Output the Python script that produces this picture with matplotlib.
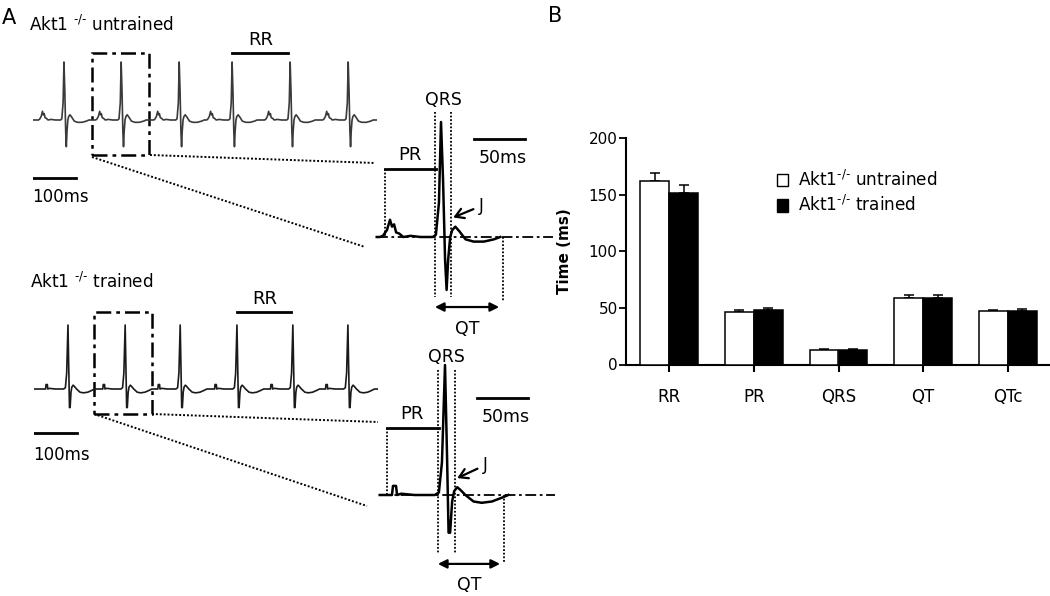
import matplotlib
matplotlib.use('Agg')
import matplotlib.pyplot as plt
from matplotlib.patches import Rectangle, Patch

W, H = 1050, 596

# ---------------- Panel B data ----------------
categories = ['RR', 'PR', 'QRS', 'QT', 'QTc']
untrained_mean = [162, 46, 12.5, 58.5, 47]
untrained_sem = [7, 2, 1, 2.5, 1.5]
trained_mean = [151, 48, 13, 58.5, 47.5]
trained_sem = [7.5, 1.5, 0.6, 2.5, 1.2]
yticks = [0, 50, 100, 150, 200]
legend_labels = [r'Akt1$^{\text{-/-}}$ untrained', r'Akt1$^{\text{-/-}}$ trained']

# ---------------- Panel A data ----------------
# R-peak times (ms) in the overview traces
untrained_r_times = [72, 205, 340, 463, 598, 733]
trained_r_times = [79, 212, 340, 472, 602, 730]
# beat template knots: time relative to R peak (ms), amplitude relative to R
untrained_beat_t = [-60, -57, -53, -50, -48, -46, -44, -41, -37, -30, -20, -8, -5, -2, 0, 2, 4, 5.5, 7, 9, 11, 14, 18, 24, 32, 42, 52, 58]
untrained_beat_a = [0, 0.01, 0.06, 0.15, 0.09, 0.11, 0.04, 0.03, 0.0, 0.01, 0.0, 0.0, 0.02, 0.3, 1.0, 0.5, -0.2, -0.46, -0.2, 0.0, 0.06, 0.09, 0.05, -0.02, -0.04, -0.04, -0.02, 0]
trained_beat_t = [-62, -57, -52, -51, -48, -47, -43, -30, -10, -6, -3, 0, 2, 3.5, 5, 7, 9, 12, 15, 20, 28, 36, 46, 56, 62]
trained_beat_a = [0, 0, 0.0, 0.07, 0.07, 0.0, 0.01, 0, 0, 0.02, 0.25, 1.0, 0.3, -0.29, -0.29, -0.05, 0.03, 0.06, 0.04, 0.0, -0.05, -0.06, -0.05, -0.02, 0]
# interval landmarks of the zoomed beats (ms relative to R)
untrained_marks = {'p_on': -55, 'qrs_on': -6, 'qrs_off': 10, 't_end': 61}
trained_marks = {'p_on': -57, 'qrs_on': -7, 'qrs_off': 10, 't_end': 58}
trace_len = 800

fig = plt.figure(figsize=(W / 100, H / 100), dpi=100)

ov = fig.add_axes([0, 0, 1, 1])
ov.set_xlim(0, W)
ov.set_ylim(H, 0)
ov.axis('off')


def trace_axes(x0, x1, y0, y1, t0, pxms, base_py, pxamp):
    ax = fig.add_axes([x0 / W, 1 - y1 / H, (x1 - x0) / W, (y1 - y0) / H])
    ax.set_xlim(t0, t0 + (x1 - x0) / pxms)
    ax.set_ylim((base_py - y1) / pxamp, (base_py - y0) / pxamp)
    ax.axis('off')
    return ax


def build_trace(r_times, bt, ba, t_end):
    t, a = [0], [0]
    for r in r_times:
        t += [r + x for x in bt]
        a += list(ba)
    t.append(t_end)
    a.append(0)
    return t, a


dashdot = (0, (6, 2, 1.5, 2))
dotted = (0, (1, 1))


def overview(ax, r_times, bt, ba, color, box, bar_amp, scale_amp):
    t, a = build_trace(r_times, bt, ba, trace_len)
    ax.plot(t, a, color=color, lw=1.2, solid_joinstyle='round')
    bx0, bx1, by0, by1 = box
    ax.add_patch(Rectangle((bx0, by0), bx1 - bx0, by1 - by0, fill=False,
                           ec='black', lw=1.8, ls=dashdot))
    ax.plot([r_times[3], r_times[4] - 4], [bar_amp, bar_amp], color='black', lw=2)
    ax.annotate('RR', xy=((r_times[3] + r_times[4]) / 2, bar_amp), xytext=(0, 3),
                textcoords='offset points', ha='center', va='bottom', fontsize=13)
    ax.plot([0, 100], [scale_amp, scale_amp], color='black', lw=2)


def zoomed(ax, bt, ba, marks, t_start, t_stop, pr_y, qrs_top, qrs_bot, qt_bot,
           qt_arrow_y, qt_arrow_end, bar50_t, bar50_y, j_tip, j_text):
    ax.plot([t_start, t_stop], [0, 0], color='black', lw=1.3, ls=dashdot)
    t = [t_start] + list(bt)
    a = [0] + list(ba)
    ax.plot(t, a, color='black', lw=1.8)
    ax.plot([marks['p_on'], marks['qrs_on'] + 1], [pr_y, pr_y], color='black', lw=2)
    ax.plot([marks['p_on']] * 2, [pr_y, 0], color='black', lw=1.3, ls=dotted)
    ax.text((marks['p_on'] + marks['qrs_on']) / 2, pr_y + 0.04, 'PR',
            ha='center', va='bottom', fontsize=13)
    for q in (marks['qrs_on'], marks['qrs_off']):
        ax.plot([q, q], [qrs_top, qrs_bot], color='black', lw=1.3, ls=dotted)
    ax.text((marks['qrs_on'] + marks['qrs_off']) / 2, qrs_top + 0.03, 'QRS',
            ha='center', va='bottom', fontsize=12.5)
    ax.plot([marks['t_end']] * 2, [0, qt_bot], color='black', lw=1.3, ls=dotted)
    ax.annotate('', xy=(qt_arrow_end, qt_arrow_y), xytext=(marks['qrs_on'], qt_arrow_y),
                arrowprops=dict(arrowstyle='<|-|>', lw=1.6, color='black',
                                mutation_scale=13, shrinkA=0, shrinkB=0))
    ax.annotate('QT', xy=((marks['qrs_on'] + qt_arrow_end) / 2, qt_arrow_y),
                xytext=(0, -9), textcoords='offset points', ha='center', va='top',
                fontsize=12.5)
    ax.plot([bar50_t, bar50_t + 50], [bar50_y, bar50_y], color='black', lw=2)
    ax.annotate('50ms', xy=(bar50_t + 25, bar50_y), xytext=(2, -7),
                textcoords='offset points', ha='center', va='top', fontsize=12.5)
    ax.annotate('J', xy=j_tip, xytext=j_text, ha='left', va='center', fontsize=12,
                arrowprops=dict(arrowstyle='->,head_length=0.5,head_width=0.3',
                                lw=1.6, color='black', shrinkA=2, shrinkB=0))


# ---- top overview (untrained)
ax_u = trace_axes(33, 377, 30, 215, 0, 0.43, 120, 58)
overview(ax_u, untrained_r_times, untrained_beat_t, untrained_beat_a, '#3a3a3a',
         (137, 270, -0.6, 1.155), 1.155, -1.0)
# ---- bottom overview (trained)
ax_t = trace_axes(34, 378, 290, 470, 0, 0.43, 389, 64)
overview(ax_t, trained_r_times, trained_beat_t, trained_beat_a, '#1a1a1a',
         (140, 274, -0.39, 1.2), 1.2, -0.69)

# ---- zoomed insets
ax_zu = trace_axes(360, 560, 80, 345, (360 - 441) / 1.02, 1.02, 237, 115)
zoomed(ax_zu, untrained_beat_t, untrained_beat_a, untrained_marks, -63, 110,
       pr_y=0.591, qrs_top=1.087, qrs_bot=-0.522, qt_bot=-0.565,
       qt_arrow_y=-0.609, qt_arrow_end=57, bar50_t=32.4, bar50_y=0.852,
       j_tip=(12, 0.17), j_text=(37, 0.27))
ax_zt = trace_axes(360, 560, 340, 596, (360 - 445) / 1.02, 1.02, 495, 130)
zoomed(ax_zt, trained_beat_t, trained_beat_a, trained_marks, -64, 108,
       pr_y=0.515, qrs_top=0.96, qrs_bot=-0.446, qt_bot=-0.515,
       qt_arrow_y=-0.53, qt_arrow_end=54, bar50_t=31.4, bar50_y=0.746,
       j_tip=(12, 0.13), j_text=(37, 0.23))

# ---- connector lines (pixel coordinates)
for (x0, y0, x1, y1) in [(150, 155, 375, 163), (92, 157, 365, 247),
                         (152, 414, 378, 422), (94, 414, 367, 506)]:
    ov.plot([x0, x1], [y0, y1], color='black', lw=1.4, ls=dotted)

# ---- panel A texts
ov.text(2, 18, 'A', fontsize=15, ha='left', va='center')
ov.text(548, 16, 'B', fontsize=15, ha='left', va='center')
ov.text(29, 25, r'Akt1 $^{\text{-/-}}$ untrained', fontsize=12.2, ha='left', va='center')
ov.text(30, 282, r'Akt1 $^{\text{-/-}}$ trained', fontsize=12.2, ha='left', va='center')
ov.text(32, 197, '100ms', fontsize=12, ha='left', va='center')
ov.text(33, 455, '100ms', fontsize=12, ha='left', va='center')

# ---------------- Panel B ----------------
axb = fig.add_axes([626 / W, (H - 364.5) / H, (1051 - 626) / W, (364.5 - 138) / H])
x = list(range(len(categories)))
w = 0.34
xu = [i - w / 2 for i in x]
xt = [i + w / 2 for i in x]
axb.bar(xu, untrained_mean, width=w, color='white', edgecolor='black', lw=1.1, zorder=3)
axb.bar(xt, trained_mean, width=w, color='black', edgecolor='black', lw=1.1, zorder=3)
axb.errorbar(xu, untrained_mean, yerr=[[0] * 5, untrained_sem], fmt='none',
             ecolor='black', elinewidth=1.1, capsize=3.5, capthick=1.1, zorder=2)
axb.errorbar(xt, trained_mean, yerr=[[0] * 5, trained_sem], fmt='none',
             ecolor='black', elinewidth=1.1, capsize=3.5, capthick=1.1, zorder=2)
axb.set_xlim(-0.51, 4.51)
axb.set_ylim(0, 200)
axb.set_yticks(yticks)
axb.set_xticks(x)
axb.set_xticklabels(categories)
for s in ('top', 'right'):
    axb.spines[s].set_visible(False)
for s in ('left', 'bottom'):
    axb.spines[s].set_linewidth(1.5)
axb.tick_params(axis='y', length=5, width=1.3, pad=1, labelsize=11)
axb.tick_params(axis='x', length=5, width=1.5, pad=12, labelsize=12)
axb.set_ylabel('Time (ms)', fontsize=11, fontweight='bold')
axb.yaxis.set_label_coords(-0.128, 0.5)
handles = [Patch(facecolor='white', edgecolor='black', lw=1),
           Patch(facecolor='black', edgecolor='black', lw=1)]
axb.legend(handles, legend_labels, loc='upper left', frameon=False,
           bbox_to_anchor=((777 - 626) / 425, (364.5 - 170) / 226.5),
           borderpad=0, borderaxespad=0, handlelength=0.65, handleheight=0.75,
           handletextpad=0.6, labelspacing=0.3, fontsize=12.2)

fig.savefig('out.png', dpi=100)
